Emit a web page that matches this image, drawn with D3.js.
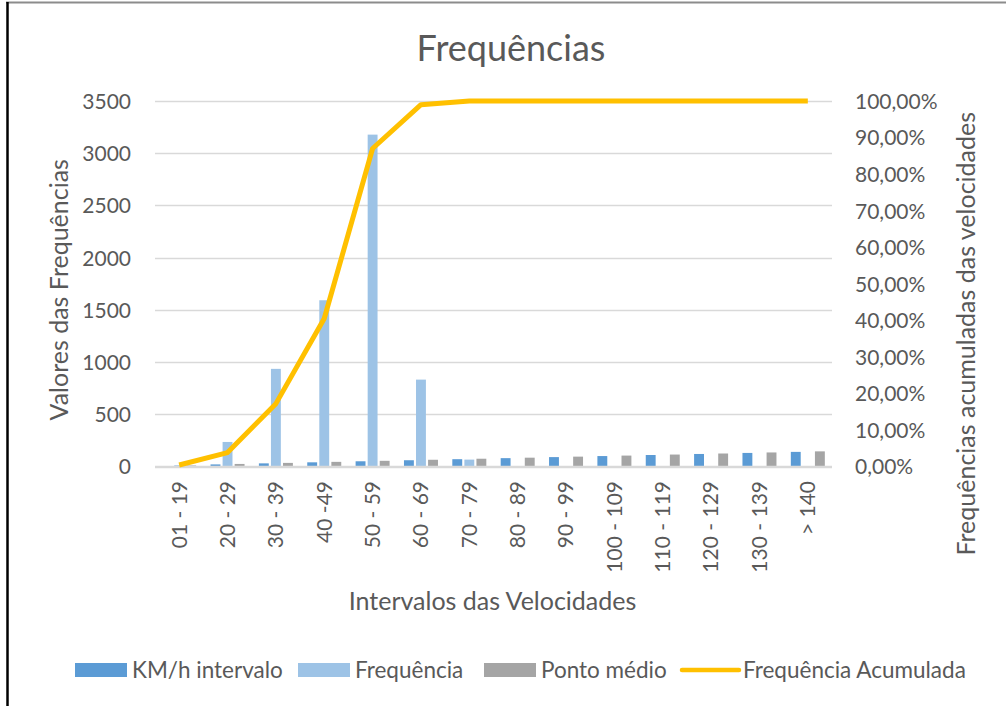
<!DOCTYPE html>
<html>
<head>
<meta charset="utf-8">
<script src="https://cdn.jsdelivr.net/npm/d3@7"></script>
<style>
    body { margin: 0; background: #fff; }
    svg text { font-family: Lato, "Open Sans", sans-serif; fill: #595959; }
</style>
</head>
<body>
<div id="chart"></div>
<script>

// categories (speed intervals)
var categories = ["01 - 19", "20 - 29", "30 - 39", "40 -49", "50 - 59", "60 - 69", "70 - 79",
    "80 - 89", "90 - 99", "100 - 109", "110 - 119", "120 - 129", "130 - 139", "> 140"];

// series
var kmhIntervalo = [1, 20, 30, 40, 50, 60, 70, 80, 90, 100, 110, 120, 130, 140];
var frequencia   = [12, 235, 935, 1592, 3178, 832, 66, 0, 0, 0, 0, 0, 0, 0];
var pontoMedio   = [10, 24.5, 34.5, 44.5, 54.5, 64.5, 74.5, 84.5, 94.5, 104.5, 114.5, 124.5, 134.5, 145];
var freqAcumulada = [0.004, 0.038, 0.172, 0.405, 0.870, 0.990, 1, 1, 1, 1, 1, 1, 1, 1];

// axes ticks
var leftTicks = [0, 500, 1000, 1500, 2000, 2500, 3000, 3500];
var rightTicks = [0, 0.1, 0.2, 0.3, 0.4, 0.5, 0.6, 0.7, 0.8, 0.9, 1];
var rightTickLabels = ["0,00%", "10,00%", "20,00%", "30,00%", "40,00%", "50,00%",
    "60,00%", "70,00%", "80,00%", "90,00%", "100,00%"];

var seriesNames = ["KM/h intervalo", "Frequência", "Ponto médio"];
var seriesData = [kmhIntervalo, frequencia, pontoMedio];
var color = d3.scaleOrdinal()
    .domain(seriesNames.concat(["Frequência Acumulada"]))
    .range(["#5B9BD5", "#9DC3E6", "#A5A5A5", "#FFC000"]);

const W = 1006, H = 706;
const plot = {left: 155, right: 832, top: 101, bottom: 466.5};

const svg = d3.select("#chart")
    .append("svg")
    .attr("width", W)
    .attr("height", H);

// chart border (top + left visible)
svg.append("line")
    .attr("x1", 6).attr("x2", W).attr("y1", 2.5).attr("y2", 2.5)
    .style("stroke", "#8c8c8c").style("stroke-width", 2);
svg.append("line")
    .attr("x1", 7.5).attr("x2", 7.5).attr("y1", 2).attr("y2", H)
    .style("stroke", "#000").style("stroke-width", 2.5);

var xScale = d3.scaleBand()
    .domain(categories)
    .range([plot.left, plot.right])
    .padding(0);

var xSub = d3.scaleBand()
    .domain(seriesNames)
    .range([-17, 17])
    .paddingInner(0.18);

var yLeft = d3.scaleLinear()
    .domain([0, 3500])
    .range([plot.bottom, plot.top]);

var yRight = d3.scaleLinear()
    .domain([0, 1])
    .range([plot.bottom, plot.top]);

// gridlines
svg.append("g")
    .attr("class", "grid")
    .selectAll("line")
    .data(leftTicks)
    .enter()
    .append("line")
    .attr("x1", plot.left)
    .attr("x2", plot.right)
    .attr("y1", function (d) { return Math.round(yLeft(d)) + 0.5; })
    .attr("y2", function (d) { return Math.round(yLeft(d)) + 0.5; })
    .style("stroke", "#D9D9D9")
    .style("stroke-width", 1.5);

// left axis labels
svg.append("g")
    .attr("class", "y-axis")
    .attr("transform", "translate(131,0)")
    .call(d3.axisLeft(yLeft).tickValues(leftTicks).tickSize(0).tickPadding(0)
        .tickFormat(d3.format("d")))
    .call(function (g) { g.select(".domain").remove(); })
    .selectAll("text")
    .style("font-size", "21px")
    .attr("dy", "0.35em");

// right axis labels
svg.append("g")
    .attr("class", "y-axis-right")
    .attr("transform", "translate(855,0)")
    .call(d3.axisRight(yRight).tickValues(rightTicks).tickSize(0).tickPadding(0)
        .tickFormat(function (d, i) { return rightTickLabels[i]; }))
    .call(function (g) { g.select(".domain").remove(); })
    .selectAll("text")
    .style("font-size", "21px")
    .attr("dy", "0.35em");

// bars
var groups = svg.append("g")
    .attr("class", "bars")
    .selectAll("g")
    .data(seriesNames)
    .enter()
    .append("g")
    .style("fill", function (d) { return color(d); });

groups.each(function (name, si) {
    d3.select(this).selectAll("rect")
        .data(seriesData[si])
        .enter()
        .append("rect")
        .attr("x", function (d, i) { return xScale(categories[i]) + xScale.bandwidth() / 2 + xSub(name); })
        .attr("width", xSub.bandwidth())
        .attr("y", function (d) { return yLeft(d); })
        .attr("height", function (d) { return yLeft(0) - yLeft(d); });
});

// x axis
svg.append("line")
    .attr("x1", plot.left).attr("x2", plot.right)
    .attr("y1", plot.bottom).attr("y2", plot.bottom)
    .style("stroke", "#D9D9D9").style("stroke-width", 1.5);

svg.append("g")
    .attr("class", "x-axis")
    .selectAll("text")
    .data(categories)
    .enter()
    .append("text")
    .attr("transform", function (d) {
        return "translate(" + (xScale(d) + xScale.bandwidth() / 2) + ",481) rotate(-90)";
    })
    .attr("text-anchor", "end")
    .attr("dy", "0.35em")
    .style("font-size", "21px")
    .text(function (d) { return d; });

// cumulative line
var line = d3.line()
    .x(function (d, i) { return xScale(categories[i]) + xScale.bandwidth() / 2; })
    .y(function (d) { return yRight(d); });

svg.append("path")
    .datum(freqAcumulada)
    .attr("d", line)
    .style("fill", "none")
    .style("stroke", color("Frequência Acumulada"))
    .style("stroke-width", 5)
    .style("stroke-linejoin", "round");

// titles
svg.append("text")
    .attr("x", 511)
    .attr("y", 61)
    .attr("text-anchor", "middle")
    .style("font-size", "36px")
    .text("Frequências");

svg.append("text")
    .attr("transform", "translate(68," + ((plot.top + plot.bottom) / 2 + 6) + ") rotate(-90)")
    .attr("text-anchor", "middle")
    .style("font-size", "25px")
    .text("Valores das Frequências");

svg.append("text")
    .attr("transform", "translate(975," + ((plot.top + plot.bottom) / 2 + 50) + ") rotate(-90)")
    .attr("text-anchor", "middle")
    .style("font-size", "25px")
    .text("Frequências acumuladas das velocidades");

svg.append("text")
    .attr("x", (plot.left + plot.right) / 2 - 1)
    .attr("y", 610)
    .attr("text-anchor", "middle")
    .style("font-size", "25px")
    .text("Intervalos das Velocidades");

// legend
var legendItems = [
    {name: "KM/h intervalo", x: 75, type: "rect"},
    {name: "Frequência", x: 298, type: "rect"},
    {name: "Ponto médio", x: 484, type: "rect"},
    {name: "Frequência Acumulada", x: 682, type: "line"}
];

var legend = svg.append("g")
    .attr("class", "legend")
    .selectAll("g")
    .data(legendItems)
    .enter()
    .append("g")
    .attr("transform", function (d) { return "translate(" + d.x + ",670)"; });

legend.filter(function (d) { return d.type === "rect"; })
    .append("rect")
    .attr("x", 0).attr("y", -7)
    .attr("width", 52).attr("height", 14)
    .style("fill", function (d) { return color(d.name); });

legend.filter(function (d) { return d.type === "line"; })
    .append("line")
    .attr("x1", 0).attr("x2", 57).attr("y1", 0).attr("y2", 0)
    .style("stroke", function (d) { return color(d.name); })
    .style("stroke-width", 4.5)
    .style("stroke-linecap", "round");

legend.append("text")
    .attr("x", function (d) { return d.type === "line" ? 61 : 57; })
    .attr("y", 0)
    .attr("dy", "0.35em")
    .style("font-size", "22.5px")
    .text(function (d) { return d.name; });

</script>
</body>
</html>
